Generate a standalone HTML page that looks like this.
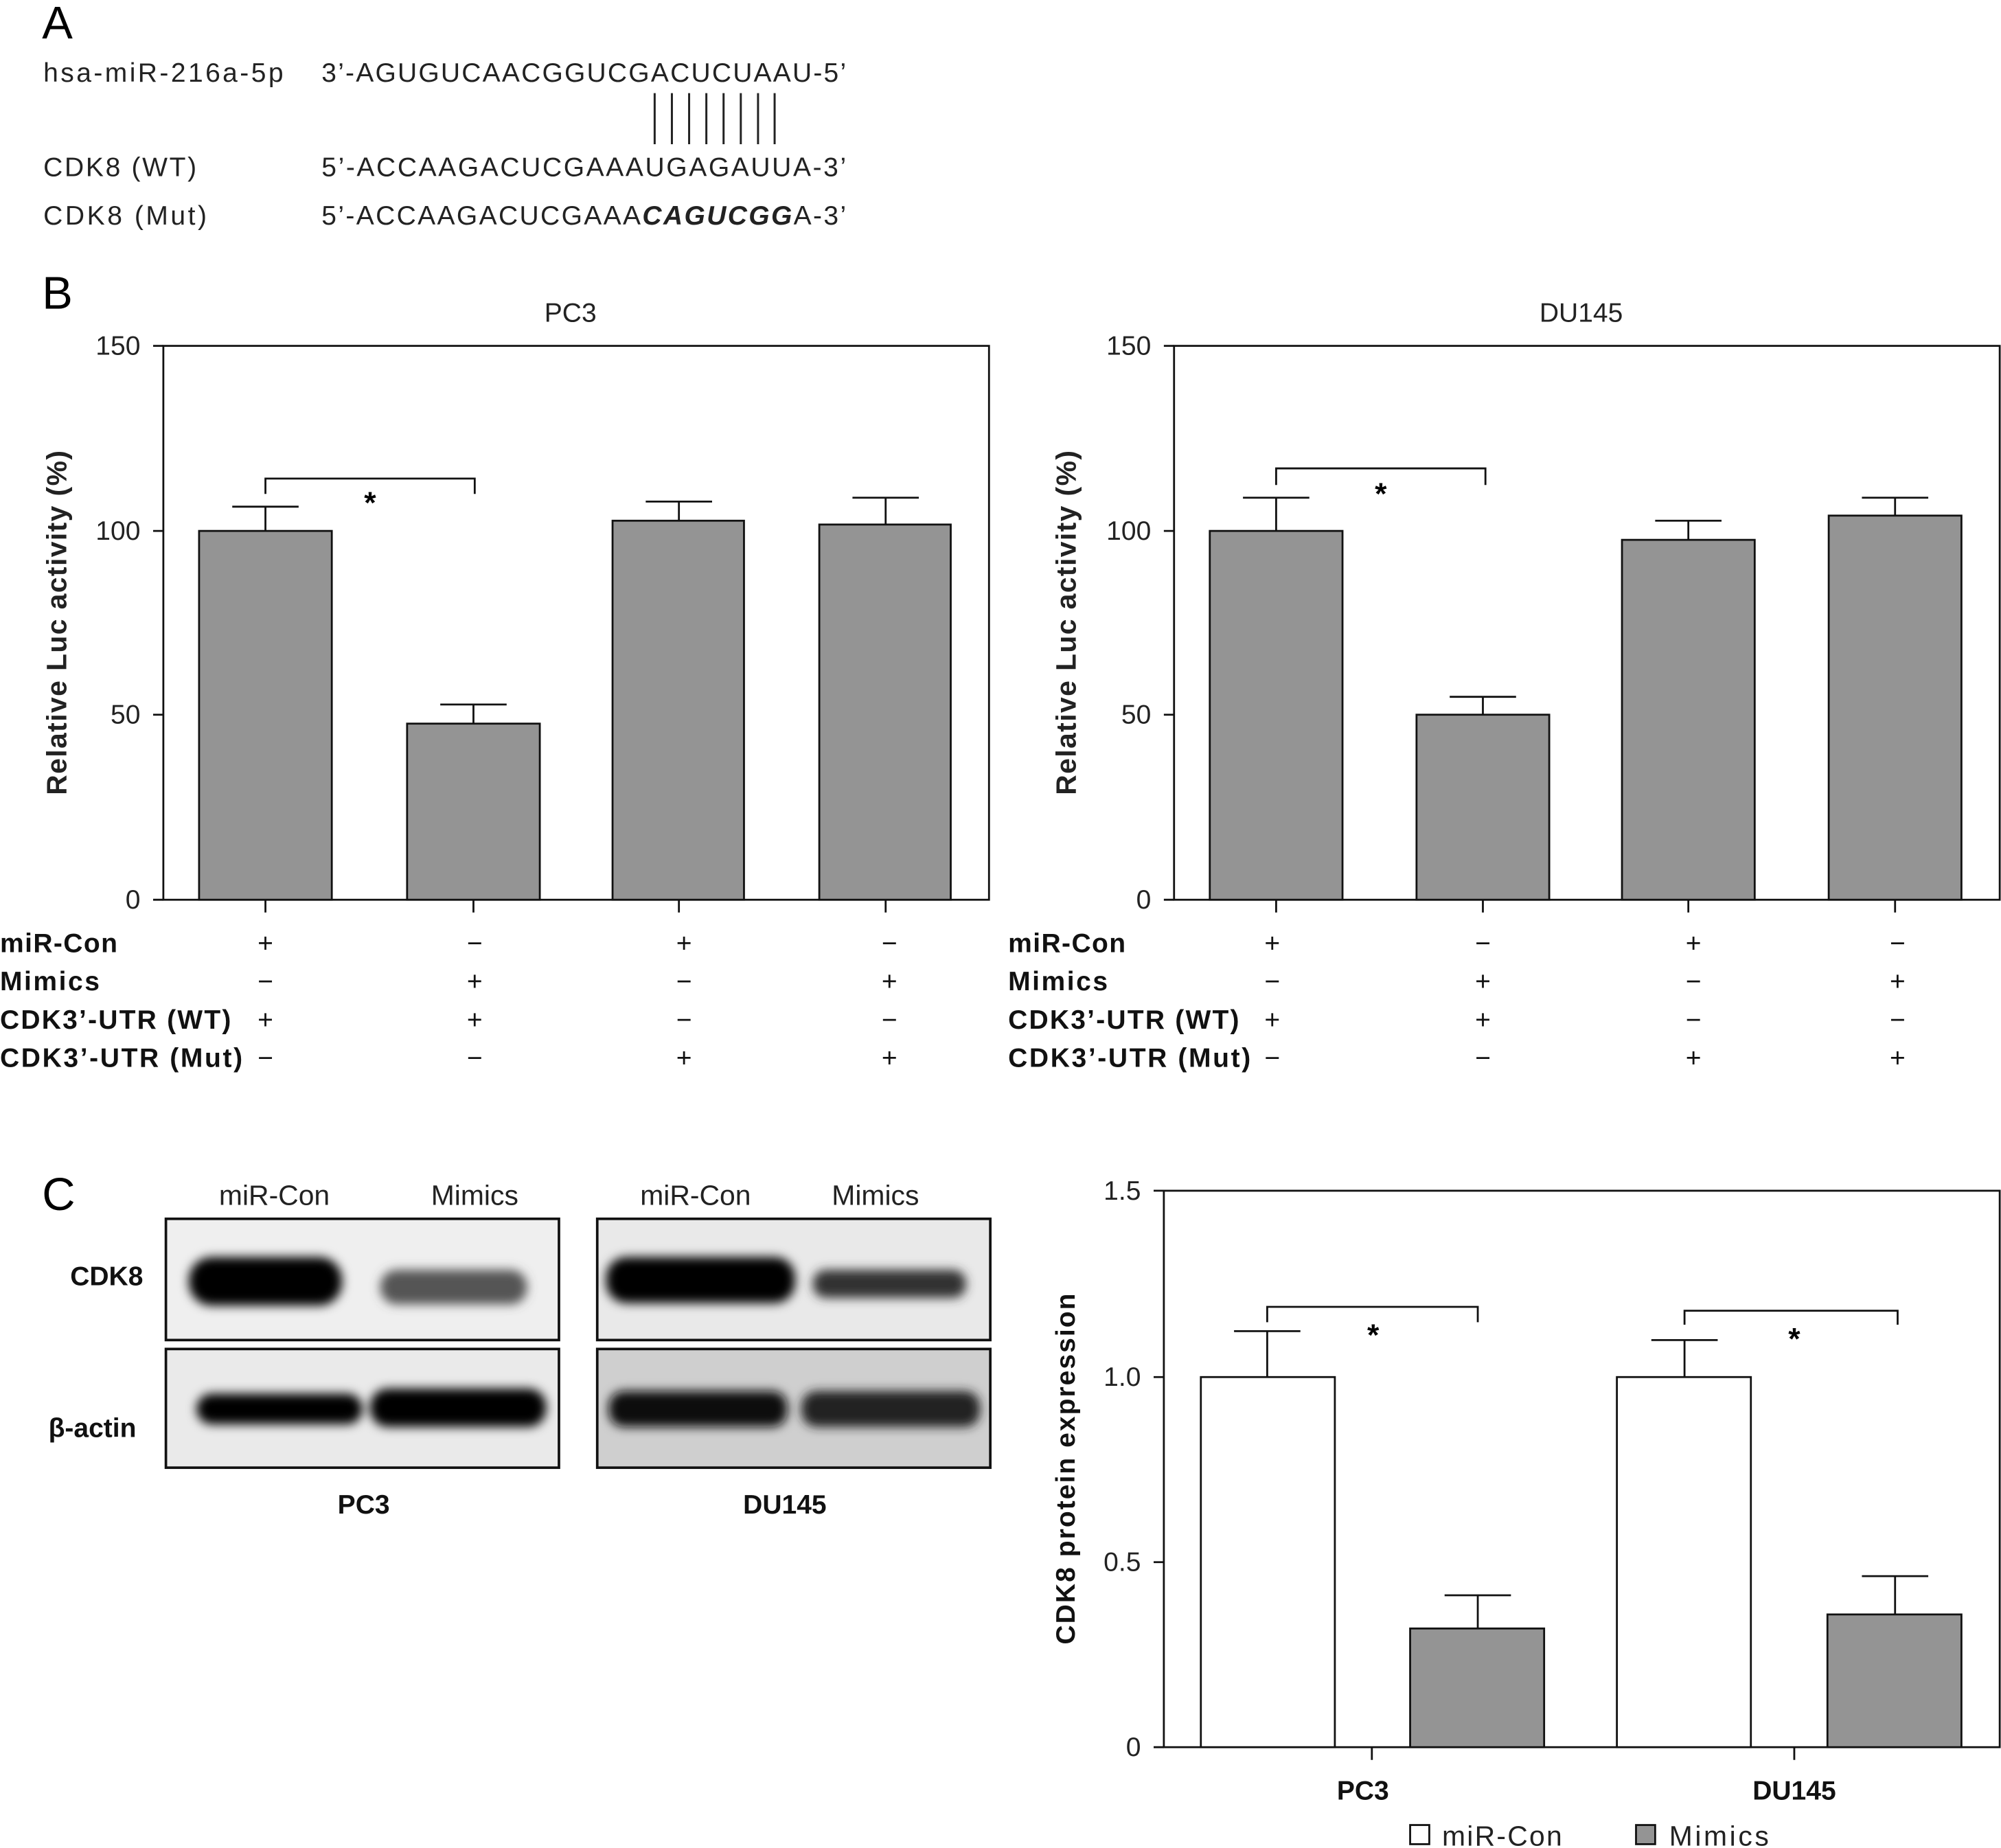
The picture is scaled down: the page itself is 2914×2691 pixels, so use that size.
<!DOCTYPE html>
<html><head><style>html,body{margin:0;padding:0;background:#fff}svg{display:block}</style></head><body>
<svg width="2914" height="2691" viewBox="0 0 1568 1448" xmlns="http://www.w3.org/2000/svg" font-family="Liberation Sans, sans-serif">
<defs><filter id="b" x="-20%" y="-50%" width="140%" height="200%"><feGaussianBlur stdDeviation="4"/></filter></defs>
<rect width="1568" height="1448" fill="#fff"/>
<text x="33" y="30" font-size="36">A</text>
<g font-size="21" fill="#222">
<text x="34" y="64" textLength="188">hsa-miR-216a-5p</text><text x="252" y="64" textLength="411">3’-AGUGUCAACGGUCGACUCUAAU-5’</text>
<text x="34" y="138" textLength="120">CDK8 (WT)</text><text x="252" y="138" textLength="411">5’-ACCAAGACUCGAAAUGAGAUUA-3’</text>
<text x="34" y="176" textLength="128">CDK8 (Mut)</text><text x="252" y="176" textLength="411">5’-ACCAAGACUCGAAA<tspan font-weight="bold" font-style="italic">CAGUCGG</tspan>A-3’</text>
</g>
<g stroke="#222" stroke-width="1.6">
<line x1="513" y1="73" x2="513" y2="113"/><line x1="526.5" y1="73" x2="526.5" y2="113"/><line x1="540" y1="73" x2="540" y2="113"/><line x1="553.5" y1="73" x2="553.5" y2="113"/><line x1="567" y1="73" x2="567" y2="113"/><line x1="580.5" y1="73" x2="580.5" y2="113"/><line x1="594" y1="73" x2="594" y2="113"/><line x1="607" y1="73" x2="607" y2="113"/>
</g>
<text x="33" y="242" font-size="36">B</text>
<g font-size="21" fill="#222">
<text x="447" y="252" text-anchor="middle">PC3</text>
<text x="1239" y="252" text-anchor="middle">DU145</text>
<text x="110" y="278" text-anchor="end">150</text><text x="110" y="423" text-anchor="end">100</text><text x="110" y="567" text-anchor="end">50</text><text x="110" y="712" text-anchor="end">0</text>
<text x="902" y="278" text-anchor="end">150</text><text x="902" y="423" text-anchor="end">100</text><text x="902" y="567" text-anchor="end">50</text><text x="902" y="712" text-anchor="end">0</text>
<text transform="translate(52,488) rotate(-90)" text-anchor="middle" font-size="22" font-weight="bold" textLength="270">Relative Luc activity (%)</text>
<text transform="translate(843,488) rotate(-90)" text-anchor="middle" font-size="22" font-weight="bold" textLength="270">Relative Luc activity (%)</text>
</g>
<g stroke="#111" stroke-width="1.5" fill="none">
<rect x="128" y="271" width="647" height="434"/>
<rect x="920" y="271" width="647" height="434"/>
<path d="M120 271H128M120 416H128M120 560H128M120 705H128M912 271H920M912 416H920M912 560H920M912 705H920"/>
<path d="M208 705V715M371 705V715M532 705V715M694 705V715M1000 705V715M1162 705V715M1323 705V715M1485 705V715"/>
</g>
<g fill="#949494" stroke="#111" stroke-width="1.5">
<rect x="156" y="416" width="104" height="289"/><rect x="319" y="567" width="104" height="138"/><rect x="480" y="408" width="103" height="297"/><rect x="642" y="411" width="103" height="294"/>
<rect x="948" y="416" width="104" height="289"/><rect x="1110" y="560" width="104" height="145"/><rect x="1271" y="423" width="104" height="282"/><rect x="1433" y="404" width="104" height="301"/>
</g>
<g stroke="#111" stroke-width="1.5" fill="none">
<path d="M208 416V397M182 397H234M371 567V552M345 552H397M532 408V393M506 393H558M694 411V390M668 390H720"/>
<path d="M1000 416V390M974 390H1026M1162 560V546M1136 546H1188M1323 423V408M1297 408H1349M1485 404V390M1459 390H1511"/>
<path d="M208 387V375H372V387M1000 380V367H1164V380"/>
</g>
<g font-size="24" font-weight="bold" text-anchor="middle"><text x="290" y="402">*</text><text x="1082" y="395">*</text></g>
<g font-size="21" font-weight="bold" fill="#111">
<text x="0" y="746" textLength="92">miR-Con</text><text x="0" y="776" textLength="78">Mimics</text><text x="0" y="806" textLength="181">CDK3’-UTR (WT)</text><text x="0" y="836" textLength="190">CDK3’-UTR (Mut)</text>
<text x="790" y="746" textLength="92">miR-Con</text><text x="790" y="776" textLength="78">Mimics</text><text x="790" y="806" textLength="181">CDK3’-UTR (WT)</text><text x="790" y="836" textLength="190">CDK3’-UTR (Mut)</text>
</g>
<g font-size="21" fill="#111" text-anchor="middle">
<text x="208" y="746">+</text><text x="372" y="746">−</text><text x="536" y="746">+</text><text x="697" y="746">−</text>
<text x="208" y="776">−</text><text x="372" y="776">+</text><text x="536" y="776">−</text><text x="697" y="776">+</text>
<text x="208" y="806">+</text><text x="372" y="806">+</text><text x="536" y="806">−</text><text x="697" y="806">−</text>
<text x="208" y="836">−</text><text x="372" y="836">−</text><text x="536" y="836">+</text><text x="697" y="836">+</text>
<text x="997" y="746">+</text><text x="1162" y="746">−</text><text x="1327" y="746">+</text><text x="1487" y="746">−</text>
<text x="997" y="776">−</text><text x="1162" y="776">+</text><text x="1327" y="776">−</text><text x="1487" y="776">+</text>
<text x="997" y="806">+</text><text x="1162" y="806">+</text><text x="1327" y="806">−</text><text x="1487" y="806">−</text>
<text x="997" y="836">−</text><text x="1162" y="836">−</text><text x="1327" y="836">+</text><text x="1487" y="836">+</text>
</g>
<text x="33" y="948" font-size="36">C</text>
<g font-size="22" fill="#222" text-anchor="middle">
<text x="215" y="944">miR-Con</text><text x="372" y="944">Mimics</text><text x="545" y="944">miR-Con</text><text x="686" y="944">Mimics</text>
</g>
<g font-size="21" font-weight="bold" fill="#111">
<text x="55" y="1007">CDK8</text><text x="38" y="1126">β-actin</text>
<text x="285" y="1186" text-anchor="middle">PC3</text><text x="615" y="1186" text-anchor="middle">DU145</text>
</g>
<rect x="130" y="955" width="308" height="95" fill="#efefef"/>
<rect x="130" y="1057" width="308" height="93" fill="#eaeaea"/>
<rect x="468" y="955" width="308" height="95" fill="#e9e9e9"/>
<rect x="468" y="1057" width="308" height="93" fill="#cfcfcf"/>
<g filter="url(#b)">
<rect x="148" y="985" width="120" height="38" rx="18" fill="#000"/>
<rect x="298" y="995" width="115" height="27" rx="13" fill="#555"/>
<rect x="154" y="1092" width="130" height="24" rx="12" fill="#000"/>
<rect x="290" y="1088" width="138" height="30" rx="14" fill="#000"/>
<rect x="475" y="985" width="148" height="36" rx="16" fill="#000"/>
<rect x="637" y="995" width="120" height="22" rx="10" fill="#333"/>
<rect x="477" y="1090" width="140" height="28" rx="12" fill="#111"/>
<rect x="628" y="1090" width="140" height="28" rx="12" fill="#222"/>
</g>
<g fill="none" stroke="#111" stroke-width="2">
<rect x="130" y="955" width="308" height="95"/><rect x="130" y="1057" width="308" height="93"/>
<rect x="468" y="955" width="308" height="95"/><rect x="468" y="1057" width="308" height="93"/>
</g>
<g font-size="21" fill="#222">
<text x="894" y="940" text-anchor="end">1.5</text><text x="894" y="1086" text-anchor="end">1.0</text><text x="894" y="1231" text-anchor="end">0.5</text><text x="894" y="1376" text-anchor="end">0</text>
</g>
<text transform="translate(842,1151) rotate(-90)" text-anchor="middle" font-size="21" font-weight="bold" fill="#111" textLength="275">CDK8 protein expression</text>
<g stroke="#111" stroke-width="1.5" fill="none">
<rect x="912" y="933" width="655" height="436"/>
<path d="M904 933H912M904 1079H912M904 1224H912M904 1369H912M1075 1369V1379M1406 1369V1379"/>
</g>
<g stroke="#111" stroke-width="1.5">
<rect x="941" y="1079" width="105" height="290" fill="#fff"/><rect x="1105" y="1276" width="105" height="93" fill="#949494"/>
<rect x="1267" y="1079" width="105" height="290" fill="#fff"/><rect x="1432" y="1265" width="105" height="104" fill="#949494"/>
</g>
<g stroke="#111" stroke-width="1.5" fill="none">
<path d="M993 1079V1043M967 1043H1019M1158 1276V1250M1132 1250H1184M1320 1079V1050M1294 1050H1346M1485 1265V1235M1459 1235H1511"/>
<path d="M993 1036V1024H1158V1036M1320 1038V1027H1487V1038"/>
</g>
<g font-size="24" font-weight="bold" text-anchor="middle"><text x="1076" y="1054">*</text><text x="1406" y="1057">*</text></g>
<g font-size="21" font-weight="bold" fill="#111" text-anchor="middle"><text x="1068" y="1410">PC3</text><text x="1406" y="1410">DU145</text></g>
<rect x="1105" y="1430" width="15" height="15" fill="#fff" stroke="#111" stroke-width="1.5"/>
<text x="1130" y="1446" font-size="22" fill="#222" textLength="94">miR-Con</text>
<rect x="1282" y="1430" width="15" height="15" fill="#949494" stroke="#111" stroke-width="1.5"/>
<text x="1308" y="1446" font-size="22" fill="#222" textLength="78">Mimics</text>
</svg>
</body></html>
